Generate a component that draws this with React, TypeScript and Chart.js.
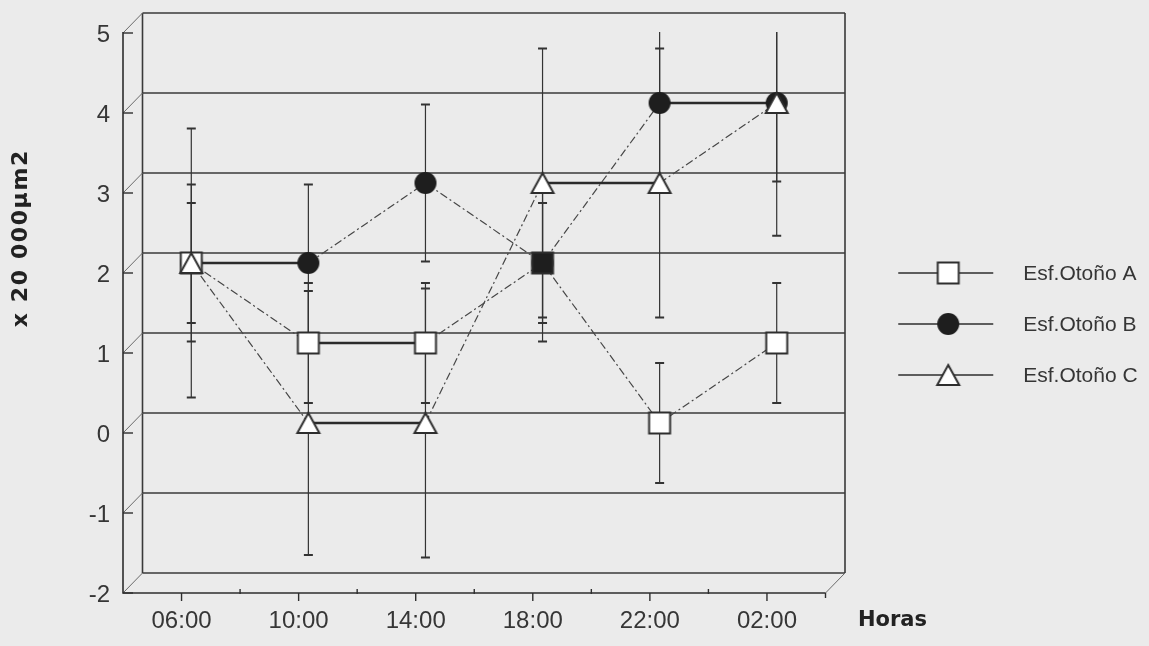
import React, { useEffect, useRef } from "react";
import { Chart, registerables } from "chart.js";

Chart.register(...registerables);

// ---- data -------------------------------------------------------------
const hours = ["06:00", "10:00", "14:00", "18:00", "22:00", "02:00"];
const valueTicks = [-2, -1, 0, 1, 2, 3, 4, 5];
const seriesNames = ["Esf.Otoño A", "Esf.Otoño B", "Esf.Otoño C"];

const otonoA = [2, 1, 1, 2, 0, 1];
const otonoB = [2, 2, 3, 2, 4, 4];
const otonoC = [2, 0, 0, 3, 3, 4];

const errA = [0.75, 0.75, 0.75, 0.75, 0.75, 0.75];
const errB = [0.98, 0.98, 0.98, 0.98, 0.98, 0.98];
const errC = [1.68, 1.65, 1.68, 1.68, 1.68, 1.66];

const yTitle = "x 20 000µm2";
const xTitle = "Horas";

// ---- look -------------------------------------------------------------
const W = 1149;
const H = 646;
const BG = "#ebebeb";
const INK = "#2e2e2e";
const GRID = "#3a3a3a";
const TEXT = "#363636";
// pseudo-3D depth of the plot box (front plane -> back wall)
const DEPTH_X = 19.5;
const DEPTH_Y = 20;

type MarkerKind = "square" | "squareFilled" | "circle" | "triangle";

function makeMarker(kind: MarkerKind): HTMLCanvasElement {
  const c = document.createElement("canvas");
  const s = 28;
  c.width = s;
  c.height = s;
  const g = c.getContext("2d") as CanvasRenderingContext2D;
  const m = s / 2;
  g.lineWidth = 2;
  g.strokeStyle = INK;
  g.fillStyle = "#ffffff";
  if (kind === "square" || kind === "squareFilled") {
    if (kind === "squareFilled") g.fillStyle = "#1e1e1e";
    g.beginPath();
    g.rect(m - 10.5, m - 10.5, 21, 21);
    g.fill();
    g.stroke();
  } else if (kind === "circle") {
    g.fillStyle = "#1e1e1e";
    g.beginPath();
    g.arc(m, m, 11, 0, Math.PI * 2);
    g.fill();
  } else {
    g.beginPath();
    g.moveTo(m, m - 10);
    g.lineTo(m + 11, m + 10);
    g.lineTo(m - 11, m + 10);
    g.closePath();
    g.fill();
    g.stroke();
  }
  return c;
}

export default function App() {
  const canvasRef = useRef<HTMLCanvasElement | null>(null);

  useEffect(() => {
    const canvas = canvasRef.current;
    if (!canvas) return;

    const squareMark = makeMarker("square");
    const squareDark = makeMarker("squareFilled");
    const circleMark = makeMarker("circle");
    const triangleMark = makeMarker("triangle");
    // where series B sits on top of series A the square prints solid
    const shadeA = otonoA.map((v, i) => v === otonoB[i] && v !== otonoC[i]);
    const legendMarks = [squareMark, circleMark, triangleMark];
    const errors = [errA, errB, errC];

    const hx = DEPTH_X / 2;
    const hy = DEPTH_Y / 2;

    const flat = (ctx: any) => ctx.p0.parsed.y === ctx.p1.parsed.y;

    const makeSet = (label: string, data: number[], style: any, order: number) => ({
      label,
      data,
      order,
      pointStyle: style,
      pointRadius: 12,
      pointHoverRadius: 12,
      borderColor: INK,
      backgroundColor: INK,
      borderWidth: 1.2,
      tension: 0,
      fill: false,
      segment: {
        borderDash: (ctx: any) => (flat(ctx) ? [] : [8, 3, 2, 3]),
        borderWidth: (ctx: any) => (flat(ctx) ? 2.6 : 1.2),
        borderColor: (ctx: any) => (flat(ctx) ? "#2a2a2a" : "#474747"),
      },
    });

    const frame3d = {
      id: "frame3d",
      beforeDraw(chart: any) {
        const { ctx, chartArea: a, scales } = chart;
        const x = scales.x;
        const y = scales.y;
        ctx.save();
        ctx.fillStyle = BG;
        ctx.fillRect(0, 0, chart.width, chart.height);

        const bl = a.left + hx;
        const br = a.right + hx;
        const fl = a.left - hx;
        const fr = a.right - hx;
        const yTop = y.getPixelForValue(5);
        const yBot = y.getPixelForValue(-2);

        // back wall grid lines
        ctx.strokeStyle = GRID;
        ctx.lineWidth = 1.6;
        valueTicks.forEach((v) => {
          const py = y.getPixelForValue(v) - hy;
          ctx.beginPath();
          ctx.moveTo(bl, py);
          ctx.lineTo(br, py);
          ctx.stroke();
        });
        ctx.beginPath();
        ctx.moveTo(bl, yTop - hy);
        ctx.lineTo(bl, yBot - hy);
        ctx.moveTo(br, yTop - hy);
        ctx.lineTo(br, yBot - hy);
        ctx.stroke();

        // side-wall diagonals
        ctx.strokeStyle = "#6a6a6a";
        ctx.lineWidth = 1;
        valueTicks.forEach((v) => {
          const py = y.getPixelForValue(v);
          ctx.beginPath();
          ctx.moveTo(bl, py - hy);
          ctx.lineTo(fl, py + hy);
          ctx.stroke();
        });
        ctx.beginPath();
        ctx.moveTo(br, yBot - hy);
        ctx.lineTo(fr, yBot + hy);
        ctx.stroke();

        // front axes
        ctx.strokeStyle = INK;
        ctx.lineWidth = 1.6;
        ctx.beginPath();
        ctx.moveTo(fl, yTop + hy - 1);
        ctx.lineTo(fl, yBot + hy);
        ctx.lineTo(fr, yBot + hy);
        ctx.stroke();

        // value ticks + labels
        ctx.lineWidth = 1.4;
        ctx.fillStyle = TEXT;
        ctx.font = "24px 'Liberation Sans', Arial, sans-serif";
        ctx.textAlign = "right";
        ctx.textBaseline = "middle";
        valueTicks.forEach((v) => {
          const py = y.getPixelForValue(v) + hy;
          ctx.beginPath();
          ctx.moveTo(fl, py);
          ctx.lineTo(fl + 10, py);
          ctx.stroke();
          ctx.fillText(String(v), fl - 13, py + 2);
        });

        // category ticks + labels
        const axisY = yBot + hy;
        const step = (a.right - a.left) / hours.length;
        ctx.textAlign = "center";
        hours.forEach((h, i) => {
          const px = x.getPixelForValue(i) - hx;
          ctx.beginPath();
          ctx.moveTo(px, axisY);
          ctx.lineTo(px, axisY + 8);
          ctx.stroke();
          ctx.fillText(h, px, axisY + 28);
        });
        for (let i = 1; i < hours.length; i++) {
          const px = fl + i * step;
          ctx.beginPath();
          ctx.moveTo(px, axisY - 4);
          ctx.lineTo(px, axisY + 1);
          ctx.stroke();
        }
        ctx.beginPath();
        ctx.moveTo(fr, axisY);
        ctx.lineTo(fr, axisY + 5);
        ctx.stroke();

        // axis titles
        ctx.fillStyle = "#222";
        ctx.font = "bold 21px 'DejaVu Sans', sans-serif";
        ctx.textAlign = "center";
        ctx.fillText(xTitle, fr + 67, axisY + 28);

        ctx.save();
        ctx.translate(21, 239);
        ctx.rotate(-Math.PI / 2);
        ctx.font = "bold 22px 'DejaVu Sans', sans-serif";
        ctx.textAlign = "left";
        const chars = Array.from(yTitle);
        const gap = 1.6;
        const widths = chars.map((ch) => ctx.measureText(ch).width);
        const total = widths.reduce((s, w) => s + w, 0) + gap * (chars.length - 1);
        let cx = -total / 2;
        chars.forEach((ch, i) => {
          ctx.fillText(ch, cx, 0);
          cx += widths[i] + gap;
        });
        ctx.restore();

        ctx.restore();
      },
      beforeDatasetsDraw(chart: any) {
        const { ctx, scales } = chart;
        const x = scales.x;
        const y = scales.y;
        const clipTop = y.getPixelForValue(5) + hy - 1;
        ctx.save();
        ctx.beginPath();
        ctx.rect(0, clipTop, chart.width, chart.height - clipTop);
        ctx.clip();
        ctx.strokeStyle = "#333";
        [otonoA, otonoB, otonoC].forEach((vals, s) => {
          vals.forEach((v, i) => {
            const px = x.getPixelForValue(i);
            const top = y.getPixelForValue(v + errors[s][i]);
            const bot = y.getPixelForValue(v - errors[s][i]);
            ctx.lineWidth = 1.2;
            ctx.beginPath();
            ctx.moveTo(px, top);
            ctx.lineTo(px, bot);
            ctx.stroke();
            ctx.lineWidth = 2;
            ctx.beginPath();
            ctx.moveTo(px - 4.5, top);
            ctx.lineTo(px + 4.5, top);
            ctx.moveTo(px - 4.5, bot);
            ctx.lineTo(px + 4.5, bot);
            ctx.stroke();
          });
        });
        ctx.restore();
      },
      afterDraw(chart: any) {
        const { ctx, chartArea: a } = chart;
        const lx0 = a.right + 63;
        const lx1 = lx0 + 95;
        const mx = lx0 + 50;
        const tx = lx0 + 125;
        ctx.save();
        seriesNames.forEach((name, i) => {
          const cy = 273 + i * 51;
          ctx.strokeStyle = INK;
          ctx.lineWidth = 1.6;
          ctx.beginPath();
          ctx.moveTo(lx0, cy);
          ctx.lineTo(lx1, cy);
          ctx.stroke();
          const mk = legendMarks[i];
          ctx.drawImage(mk, mx - mk.width / 2, cy - mk.height / 2);
          ctx.fillStyle = TEXT;
          ctx.font = "21px 'Liberation Sans', Arial, sans-serif";
          ctx.textAlign = "left";
          ctx.textBaseline = "middle";
          ctx.fillText(name, tx, cy + 1);
        });
        ctx.restore();
      },
    };

    const chart = new Chart(canvas, {
      type: "line",
      data: {
        labels: hours,
        datasets: [
          makeSet(
            seriesNames[0],
            otonoA,
            otonoA.map((_, i) => (shadeA[i] ? squareDark : squareMark)),
            1
          ),
          makeSet(seriesNames[1], otonoB, circleMark, 2),
          makeSet(seriesNames[2], otonoC, triangleMark, 0),
        ] as any,
      },
      options: {
        responsive: false,
        animation: false,
        events: [],
        layout: {
          padding: {
            left: 132.75,
            right: W - 835.25,
            top: 23,
            bottom: H - 583,
          },
        },
        plugins: {
          legend: { display: false },
          tooltip: { enabled: false },
        },
        scales: {
          x: { type: "category", offset: true, display: false },
          y: { type: "linear", min: -2, max: 5, display: false },
        },
      },
      plugins: [frame3d],
    });

    return () => chart.destroy();
  }, []);

  return (
    <div style={{ position: "absolute", left: 0, top: 0, width: W, height: H, background: BG }}>
      <canvas ref={canvasRef} width={W} height={H} style={{ display: "block" }} />
    </div>
  );
}
